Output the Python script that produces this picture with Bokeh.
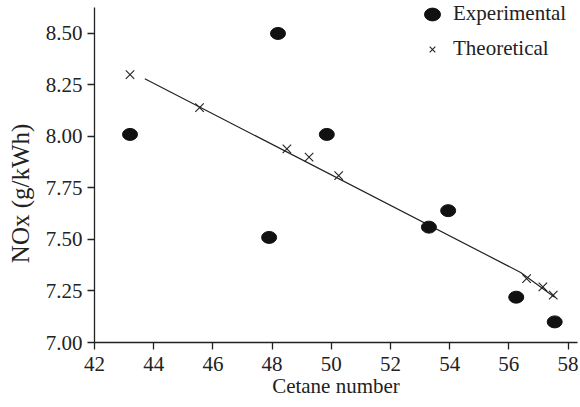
from bokeh.plotting import figure
from bokeh.models import Range1d, FixedTicker, Legend, LegendItem, ColumnDataSource
from bokeh.embed import file_html
from bokeh.resources import INLINE

# Data
exp_cetane = [43.2, 48.2, 47.9, 49.85, 53.3, 53.95, 56.25, 57.55]
exp_nox = [8.01, 8.50, 7.51, 8.01, 7.56, 7.64, 7.22, 7.10]

theo_cetane = [43.2, 45.55, 48.5, 49.25, 50.25, 56.6, 57.15, 57.5]
theo_nox = [8.30, 8.14, 7.94, 7.90, 7.81, 7.31, 7.27, 7.23]

fit_cetane = [43.7, 56.4, 57.55]
fit_nox = [8.28, 7.34, 7.22]

x_ticks = [42, 44, 46, 48, 50, 52, 54, 56, 58]
y_ticks = [7.00, 7.25, 7.50, 7.75, 8.00, 8.25, 8.50]
y_tick_labels = ["7.00", "7.25", "7.50", "7.75", "8.00", "8.25", "8.50"]

FONT = "Liberation Serif"

p = figure(width=580, height=407, output_backend="svg", toolbar_location=None,
           x_range=Range1d(42, 58.32), y_range=Range1d(7.0, 8.66),
           min_border_left=94, min_border_right=3, min_border_top=0, min_border_bottom=65)
p.outline_line_color = None
p.xgrid.visible = False
p.ygrid.visible = False
p.background_fill_color = "white"
p.border_fill_color = "white"

for ax in (p.xaxis[0], p.yaxis[0]):
    ax.axis_line_color = "#222222"
    ax.axis_line_width = 1.3
    ax.major_tick_line_color = "#222222"
    ax.major_tick_line_width = 1.3
    ax.major_tick_in = 0
    ax.major_tick_out = 7
    ax.minor_tick_line_color = None
    ax.major_label_text_font = FONT
    ax.major_label_text_font_size = "21px"
    ax.major_label_text_color = "#222222"
    ax.axis_label_text_font = FONT
    ax.axis_label_text_font_size = "21px"
    ax.axis_label_text_font_style = "normal"
    ax.axis_label_text_color = "#222222"

p.xaxis.ticker = FixedTicker(ticks=x_ticks)
p.yaxis.ticker = FixedTicker(ticks=y_ticks)
p.yaxis.bounds = (7.0, 8.625)
p.yaxis.major_label_overrides = {t: l for t, l in zip(y_ticks, y_tick_labels)}
p.xaxis.axis_label = "Cetane number"
p.yaxis.axis_label = "NOx (g/kWh)" + "\u00a0" * 7
p.yaxis.axis_label_text_font_size = "25px"
p.xaxis.major_label_standoff = 7
p.xaxis.axis_label_standoff = 0
p.yaxis.major_label_standoff = 5
p.yaxis.axis_label_standoff = 9

p.line(fit_cetane, fit_nox, line_color="#222222", line_width=1.2)

exp_src = ColumnDataSource(dict(x=exp_cetane, y=exp_nox))
r_exp = p.ellipse("x", "y", width=15, height=12, width_units="screen", height_units="screen",
                  source=exp_src, fill_color="#111111", line_color="#111111")
theo_src = ColumnDataSource(dict(x=theo_cetane, y=theo_nox))
r_theo = p.scatter("x", "y", marker="x", size=12, line_width=1.1, line_color="#222222",
                   source=theo_src)

legend = Legend(items=[LegendItem(label="Experimental", renderers=[r_exp]),
                       LegendItem(label="Theoretical", renderers=[r_theo])],
                location=(328, 281), orientation="vertical",
                border_line_color=None, background_fill_alpha=0,
                label_text_font=FONT, label_text_font_size="21px", label_text_color="#222222",
                glyph_width=20, glyph_height=24, label_height=24, spacing=10,
                label_standoff=11, padding=0, margin=0)
p.add_layout(legend, "center")

open("out.html", "w").write(file_html(p, INLINE))
